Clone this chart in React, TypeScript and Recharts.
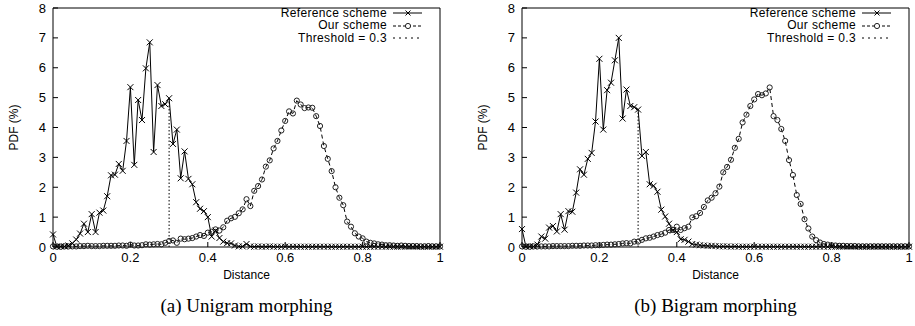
import { Legend, Line, LineChart, XAxis, YAxis } from "recharts"

const DIST = [
  0, 0.01, 0.02, 0.03, 0.04, 0.05, 0.06, 0.07, 0.08, 0.09,
  0.1, 0.11, 0.12, 0.13, 0.14, 0.15, 0.16, 0.17, 0.18, 0.19,
  0.2, 0.21, 0.22, 0.23, 0.24, 0.25, 0.26, 0.27, 0.28, 0.29,
  0.3, 0.31, 0.32, 0.33, 0.34, 0.35, 0.36, 0.37, 0.38, 0.39,
  0.4, 0.41, 0.42, 0.43, 0.44, 0.45, 0.46, 0.47, 0.48, 0.49,
  0.5, 0.51, 0.52, 0.53, 0.54, 0.55, 0.56, 0.57, 0.58, 0.59,
  0.6, 0.61, 0.62, 0.63, 0.64, 0.65, 0.66, 0.67, 0.68, 0.69,
  0.7, 0.71, 0.72, 0.73, 0.74, 0.75, 0.76, 0.77, 0.78, 0.79,
  0.8, 0.81, 0.82, 0.83, 0.84, 0.85, 0.86, 0.87, 0.88, 0.89,
  0.9, 0.91, 0.92, 0.93, 0.94, 0.95, 0.96, 0.97, 0.98, 0.99,
  1,
]

// (a) unigram morphing
const UNI_REF = [
  0.42, 0.02, 0.02, 0.02, 0.05, 0.12, 0.25, 0.45, 0.78, 0.5,
  1.1, 0.5, 1.15, 1.22, 1.7, 2.4, 2.42, 2.78, 2.55, 3.55,
  5.35, 2.75, 4.92, 4.25, 5.98, 6.85, 3.18, 5.42, 4.72, 4.78,
  4.98, 3.45, 3.93, 2.3, 3.2, 2.28, 2.1, 1.5, 1.28, 1.2,
  1.0, 0.35, 0.55, 0.3, 0.18, 0.13, 0.12, 0.05, 0.02, 0.02,
  0.1, 0.02, 0.01, 0.02, 0.01, 0.01, 0.02, 0.01, 0.01, 0.01,
  0.01, 0.01, 0.01, 0.01, 0.01, 0.01, 0.01, 0.01, 0.01, 0.01,
  0.01, 0.01, 0.01, 0.01, 0.01, 0.01, 0.01, 0.01, 0.01, 0.01,
  0.01, 0.01, 0.01, 0.01, 0.01, 0.01, 0.01, 0.01, 0.01, 0.01,
  0.01, 0.01, 0.01, 0.01, 0.01, 0.01, 0.01, 0.01, 0.01, 0.01,
  0.01,
]
const UNI_OUR = [
  0.02, 0.01, 0.01, 0.02, 0.02, 0.02, 0.02, 0.03, 0.03, 0.04,
  0.03, 0.03, 0.03, 0.04, 0.04, 0.04, 0.04, 0.05, 0.05, 0.04,
  0.08, 0.05, 0.05, 0.06, 0.09, 0.08, 0.09, 0.1, 0.09, 0.14,
  0.2, 0.22, 0.14, 0.28, 0.26, 0.28, 0.3, 0.35, 0.4, 0.37,
  0.48, 0.51, 0.59, 0.55, 0.66, 0.88, 0.96, 1.01, 1.13, 1.26,
  1.6, 1.37, 1.88, 2.04, 2.26, 2.69, 2.9, 3.3, 3.55, 3.9,
  4.22, 4.54, 4.47, 4.9, 4.77, 4.65, 4.67, 4.66, 4.38, 4.05,
  3.38, 2.95, 2.54, 2.0, 1.65, 1.4, 0.85, 0.68, 0.46, 0.35,
  0.29, 0.18, 0.14, 0.12, 0.09, 0.08, 0.06, 0.06, 0.05, 0.04,
  0.05, 0.04, 0.03, 0.03, 0.03, 0.02, 0.02, 0.03, 0.02, 0.02,
  0.02,
]

// (b) bigram morphing
const BI_REF = [
  0.6, 0.02, 0.02, 0.02, 0.08, 0.35, 0.28, 0.65, 0.7, 0.52,
  1.1, 0.58, 1.2, 1.18, 1.82, 2.6, 2.42, 2.95, 3.15, 4.2,
  6.3, 3.93, 5.25, 5.5, 6.25, 7.0, 4.3, 5.27, 4.72, 4.68,
  4.6, 3.05, 3.18, 2.1, 2.05, 1.85, 1.25, 1.02, 0.78, 0.55,
  0.5, 0.26, 0.24, 0.18, 0.1, 0.08, 0.06, 0.05, 0.04, 0.04,
  0.03, 0.02, 0.02, 0.02, 0.01, 0.02, 0.01, 0.01, 0.01, 0.01,
  0.01, 0.01, 0.01, 0.01, 0.01, 0.01, 0.01, 0.01, 0.01, 0.01,
  0.01, 0.01, 0.01, 0.01, 0.01, 0.01, 0.01, 0.01, 0.01, 0.01,
  0.01, 0.01, 0.01, 0.01, 0.01, 0.01, 0.01, 0.01, 0.01, 0.01,
  0.01, 0.01, 0.01, 0.01, 0.01, 0.01, 0.01, 0.01, 0.01, 0.01,
  0.01,
]
const BI_OUR = [
  0.02, 0.01, 0.01, 0.02, 0.02, 0.02, 0.02, 0.02, 0.03, 0.03,
  0.03, 0.03, 0.03, 0.04, 0.04, 0.04, 0.05, 0.05, 0.05, 0.06,
  0.06, 0.07, 0.08, 0.08, 0.09, 0.1, 0.12, 0.13, 0.12, 0.18,
  0.18, 0.24, 0.29, 0.31, 0.35, 0.4, 0.43, 0.48, 0.57, 0.57,
  0.68, 0.57, 0.63, 0.68, 0.99, 1.03, 1.14, 1.34, 1.56, 1.65,
  1.8, 2.02, 2.5, 2.68, 2.92, 3.32, 3.62, 4.17, 4.43, 4.72,
  4.94, 5.12, 5.08, 5.14, 5.34, 4.38, 4.25, 3.95, 3.55, 2.91,
  2.41, 1.74, 1.44, 0.93, 0.62, 0.35, 0.23, 0.15, 0.1, 0.08,
  0.06, 0.05, 0.04, 0.04, 0.03, 0.03, 0.03, 0.02, 0.02, 0.02,
  0.02, 0.02, 0.02, 0.02, 0.02, 0.02, 0.02, 0.02, 0.02, 0.02,
  0.02,
]

const THRESHOLD = 0.3
const X_TICKS = [0, 0.2, 0.4, 0.6, 0.8, 1]
const Y_TICKS = [0, 1, 2, 3, 4, 5, 6, 7, 8]
const LEGEND_LABELS = ["Reference scheme", "Our scheme", "Threshold = 0.3"]
const CAPTIONS = ["(a) Unigram morphing", "(b) Bigram morphing"]

const SANS = '"Liberation Sans", Arial, Helvetica, sans-serif'
const SERIF = '"Liberation Serif", "Times New Roman", serif'
const tickStyle = { fill: "#000", fontSize: 13, fontFamily: SANS }

function Cross(props: any) {
  const { cx, cy, index } = props
  if (cx == null || cy == null) return <g key={index} />
  return (
    <path
      key={index}
      d={`M${cx - 3},${cy - 3}L${cx + 3},${cy + 3}M${cx - 3},${cy + 3}L${cx + 3},${cy - 3}`}
      stroke="#000"
      strokeWidth={1}
      fill="none"
    />
  )
}

function Ring(props: any) {
  const { cx, cy, index } = props
  if (cx == null || cy == null) return <g key={index} />
  return <circle key={index} cx={cx} cy={cy} r={2.6} stroke="#222" strokeWidth={1} fill="none" />
}

function LegendBox() {
  const dashes = [undefined, "3 2", "2 4"]
  return (
    <div style={{ fontFamily: SANS, fontSize: 12, letterSpacing: 0.35, color: "#000" }}>
      {LEGEND_LABELS.map((label, i) => (
        <div
          key={label}
          style={{ display: "flex", justifyContent: "flex-end", alignItems: "center", height: 12.4, lineHeight: "12.4px" }}
        >
          <span>{label}</span>
          <svg width={29} height={12} style={{ marginLeft: 6 }}>
            <line x1={0} y1={6} x2={29} y2={6} stroke="#000" strokeWidth={1} strokeDasharray={dashes[i]} />
            {i === 0 && <path d="M12.5,3.5L17.5,8.5M12.5,8.5L17.5,3.5" stroke="#000" fill="none" />}
            {i === 1 && <circle cx={15} cy={6} r={2.6} stroke="#222" fill="#fff" />}
          </svg>
        </div>
      ))}
    </div>
  )
}

function Panel({ refs, ours, caption, left, width }: { refs: number[]; ours: number[]; caption: string; left: number; width: number }) {
  const rows = DIST.map((d, i) => ({ d, ref: refs[i], our: ours[i] }))
  const cut = [
    { d: THRESHOLD, v: 0 },
    { d: THRESHOLD, v: refs[DIST.indexOf(THRESHOLD)] },
  ]

  return (
    <div style={{ position: "absolute", left, top: 0, width, height: 326 }}>
      <LineChart width={width} height={290} data={rows} margin={{ top: 7, right: width - 441, bottom: 0, left: 8 }}>
        <XAxis
          dataKey="d"
          type="number"
          domain={[0, 1]}
          ticks={X_TICKS}
          interval={0}
          height={43}
          tick={tickStyle}
          tickSize={-5}
          tickMargin={11}
          axisLine={{ stroke: "#000" }}
          tickLine={{ stroke: "#000" }}
          label={{ value: "Distance", position: "insideBottom", offset: 11, fontSize: 12, fill: "#000", fontFamily: SANS }}
        />
        <XAxis
          xAxisId="t"
          orientation="top"
          dataKey="d"
          type="number"
          domain={[0, 1]}
          ticks={X_TICKS}
          interval={0}
          height={1}
          tick={false}
          tickSize={-5}
          axisLine={{ stroke: "#000" }}
          tickLine={{ stroke: "#000" }}
        />
        <YAxis
          type="number"
          domain={[0, 8]}
          ticks={Y_TICKS}
          interval={0}
          width={45}
          tick={tickStyle}
          tickSize={-5}
          tickMargin={12}
          axisLine={{ stroke: "#000" }}
          tickLine={{ stroke: "#000" }}
          label={{
            value: "PDF (%)",
            angle: -90,
            position: "insideLeft",
            offset: 6,
            fontSize: 12,
            fill: "#000",
            fontFamily: SANS,
            style: { textAnchor: "middle" },
          }}
        />
        <YAxis
          yAxisId="r"
          orientation="right"
          type="number"
          domain={[0, 8]}
          ticks={Y_TICKS}
          interval={0}
          width={1}
          tick={false}
          tickSize={-5}
          axisLine={{ stroke: "#000" }}
          tickLine={{ stroke: "#000" }}
        />
        <Legend
          layout="vertical"
          align="center"
          verticalAlign="middle"
          wrapperStyle={{ left: 232, top: 7, width: 190 }}
          content={LegendBox}
        />
        <Line
          data={cut}
          dataKey="v"
          stroke="#000"
          strokeWidth={1}
          strokeDasharray="1.5 2"
          dot={false}
          isAnimationActive={false}
        />
        <Line
          dataKey="our"
          stroke="#000"
          strokeWidth={1}
          strokeDasharray="4 3"
          dot={Ring}
          isAnimationActive={false}
        />
        <Line dataKey="ref" stroke="#000" strokeWidth={1} dot={Cross} isAnimationActive={false} />
      </LineChart>
      <div
        style={{
          position: "absolute",
          left: 0,
          width: 493,
          top: 294,
          textAlign: "center",
          fontFamily: SERIF,
          fontSize: 19,
          lineHeight: "24px",
          color: "#000",
        }}
      >
        {caption}
      </div>
    </div>
  )
}

export default function App() {
  return (
    <div style={{ position: "absolute", left: 0, top: 0, width: 915, height: 326, background: "#fff", overflow: "hidden" }}>
      <Panel refs={UNI_REF} ours={UNI_OUR} caption={CAPTIONS[0]} left={0} width={460} />
      <Panel refs={BI_REF} ours={BI_OUR} caption={CAPTIONS[1]} left={469} width={446} />
    </div>
  )
}
